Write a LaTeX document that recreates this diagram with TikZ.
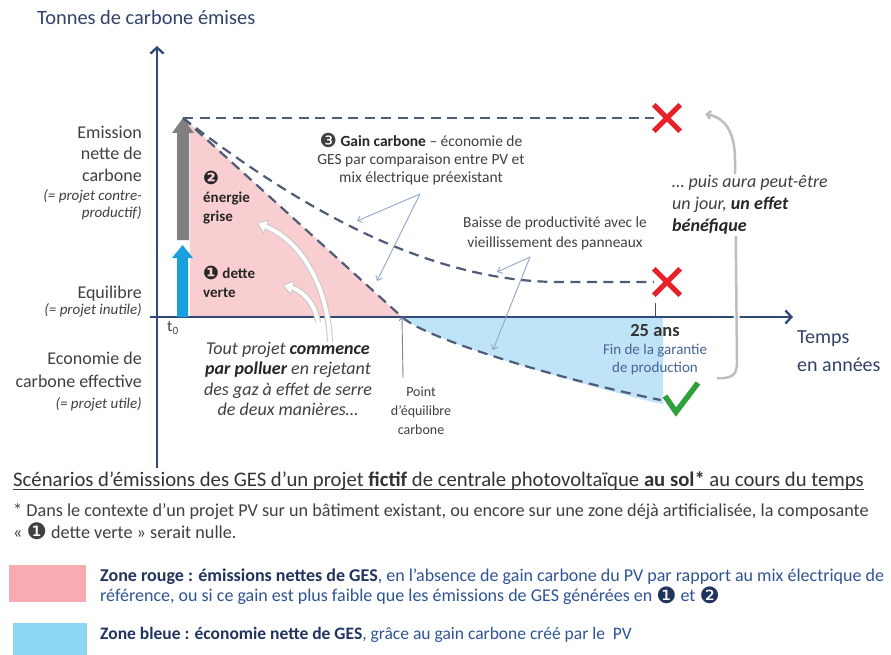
\documentclass[tikz,border=0pt]{standalone}
\usepackage{fontspec}
\setmainfont{Carlito}
\newfontfamily\djv{DejaVu Sans}
\usetikzlibrary{arrows.meta}
\newcommand\fsz[2]{\fontsize{#1pt}{#2pt}\selectfont}
\newcommand\cnum[1]{\raisebox{-0.08em}{\scalebox{1.25}{\djv #1}}}
\definecolor{axisblue}{RGB}{47,74,120}
\definecolor{dashc}{RGB}{78,92,118}
\definecolor{pinkz}{RGB}{249,206,209}
\definecolor{bluez}{RGB}{192,228,247}
\definecolor{pinkl}{RGB}{248,172,178}
\definecolor{bluel}{RGB}{140,214,246}
\definecolor{txtg}{RGB}{64,64,64}
\definecolor{navy}{RGB}{33,52,95}
\definecolor{linkb}{RGB}{47,84,150}
\definecolor{thinb}{RGB}{145,165,205}
\definecolor{xred}{RGB}{232,32,40}
\definecolor{cgreen}{RGB}{46,160,60}
\definecolor{arrgray}{RGB}{128,128,128}
\definecolor{arrblue}{RGB}{27,160,222}
\definecolor{braceg}{RGB}{190,190,190}
\definecolor{ttl}{RGB}{50,66,105}
\definecolor{fincol}{RGB}{70,100,150}
\begin{document}
\begin{tikzpicture}[x=1pt,y=-1pt,
  lbl/.style={anchor=mid east, inner sep=0, text=txtg, font=\fsz{18}{22}},
  lbls/.style={anchor=mid east, inner sep=0, text=txtg, font=\fsz{15}{17}\itshape},
  dashl/.style={draw=dashc, line width=2.2pt, dash pattern=on 10pt off 6.5pt},
  axisl/.style={draw=axisblue, line width=2.3pt, -{Straight Barb[length=6pt,width=13pt]}},
  thinarr/.style={draw=thinb, line width=0.9pt, -{Straight Barb[length=4pt,width=7pt]}},
  xbox/.style={minimum size=26pt, inner sep=0},
  xs/.style={draw=xred, line width=5pt},
  wout/.style={draw=black!22, line width=6pt, -{Triangle[length=10pt,width=15pt]}},
  win/.style={draw=white, line width=4pt, shorten >=1.3pt, -{Triangle[length=8pt,width=11pt]}},
  ctext/.style={align=center, inner sep=0, text=txtg}
]
\useasboundingbox (0,0) rectangle (891,655);
\fill[white] (0,0) rectangle (891,655);

% zones
\fill[pinkz] (190,124) -- (402,317) -- (190,317) -- cycle;
\fill[bluez] (402,317) .. controls (430,342) and (580,384) .. (653,402) -- (663,404) -- (663,317) -- cycle;

% axes
\coordinate (yb) at (157,468);
\coordinate (yt) at (157,46);
\coordinate (xl) at (150,317);
\coordinate (xr) at (793,317);
\draw[axisl] (yb) -- (yt);
\draw[axisl] (xl) -- (xr);
\coordinate (tk) at (655,303);
\coordinate (tkb) at (655,317);
\draw[black!70, line width=1pt] (tk) -- (tkb);

% emission arrows (shapes)
\fill[arrgray] (177,240) -- (177,133) -- (172,133) -- (183,118) -- (194,133) -- (189,133) -- (189,240) -- cycle;
\fill[arrblue] (177,317) -- (177,258) -- (172,258) -- (182.5,245) -- (193,258) -- (188,258) -- (188,317) -- cycle;

% scenario curves
\coordinate (S) at (183,118);
\coordinate (P) at (402,317);
\node[xbox] (x1) at (667,118) {};
\node[xbox] (x2) at (667,282) {};
\node[minimum width=40pt, minimum height=30pt, inner sep=0] (ck) at (681,400) {};
\draw[dashl] (S) -- (x1.west);
\draw[dashl] (S) .. controls (340,240) and (460,282) .. (560,282) -- (x2.west);
\draw[dashl] (S) -- (P) .. controls (430,342) and (580,384) .. (ck.west);

\draw[xs] (x1.north west) -- (x1.south east);
\draw[xs] (x1.north east) -- (x1.south west);
\draw[xs] (x2.north west) -- (x2.south east);
\draw[xs] (x2.north east) -- (x2.south west);
\draw[cgreen, line width=5.5pt] (665,396) -- (676,412) -- (698,383);

% thin annotation arrows
\coordinate (g3o) at (420,194);
\coordinate (g3a) at (357,221);
\coordinate (g3b) at (377,281);
\draw[thinarr] (g3o) -- (g3a);
\draw[thinarr] (g3o) -- (g3b);
\coordinate (bo) at (530,257);
\coordinate (ba) at (497,272);
\coordinate (bb) at (493,350);
\draw[thinarr] (bo) -- (ba);
\draw[thinarr] (bo) -- (bb);
\coordinate (po) at (403,378);
\draw[draw=thinb!80!black, line width=0.9pt, -{Straight Barb[length=3pt,width=6pt]}] (po) -- (P);

% white curved arrows
\coordinate (wa0) at (330,342);
\coordinate (wa1) at (257,223);
\coordinate (wb0) at (318,322);
\coordinate (wb1) at (283,285);
\draw[wout] (wa0) .. controls (328,285) and (300,240) .. (wa1);
\draw[win] (wa0) .. controls (328,285) and (300,240) .. (wa1);
\draw[wout] (wb0) .. controls (314,300) and (300,290) .. (wb1);
\draw[win] (wb0) .. controls (314,300) and (300,290) .. (wb1);

% brace
\coordinate (b0) at (717,378);
\coordinate (b1) at (705,114);
\draw[white, line width=6pt] (b0) .. controls (733,379) and (737,374) .. (737,362) -- (735,160) .. controls (735,128) and (722,117) .. (b1);
\draw[braceg, line width=2.5pt, -{Straight Barb[length=4pt,width=8pt]}] (b0) .. controls (733,379) and (737,374) .. (737,362) -- (735,160) .. controls (735,128) and (722,117) .. (b1);

% title and axis labels
\node[anchor=mid west, inner sep=0, text=ttl, font=\fsz{20.4}{24}] (ttlnode) at (37,22) {Tonnes de carbone émises};
\node[lbl] (l1) at (142,136) {Emission};
\node[lbl] (l2) at (142,157) {nette de};
\node[lbl] (l3) at (142,179) {carbone};
\node[lbls] (l4) at (142,198) {(= projet contre-};
\node[lbls] (l5) at (142,215) {productif)};
\node[lbl] (l6) at (142,296) {Equilibre};
\node[lbls] (l7) at (142,312) {(= projet inutile)};
\node[lbl] (l8) at (142,362) {Economie de};
\node[lbl] (l9) at (142,385) {carbone effective};
\node[lbls] (l10) at (142,406) {(= projet utile)};
\node[inner sep=0, text=txtg, font=\fsz{16}{18}] (t0) at (173,328) {t\textsubscript{0}};

% chart texts
\node[align=left, anchor=north west, inner sep=0, font=\fsz{15}{19}\bfseries, text=black!85] (eg) at (203,171) {\cnum{❷}\\énergie\\grise};
\node[align=left, anchor=west, inner sep=0, font=\fsz{15}{19}\bfseries, text=black!85] (dv) at (203,282) {\cnum{❶} dette\\verte};
\node[ctext, font=\fsz{15.5}{18}] (g3t) at (421,159) {\cnum{❸} \textcolor{black!85}{\textbf{Gain carbone}} – économie de\\GES par comparaison entre PV et\\mix électrique préexistant};
\node[ctext, font=\fsz{15.4}{20}] (bai) at (555,233) {Baisse de productivité avec le\\vieillissement des panneaux};
\node[ctext, font=\fsz{14}{19}] (pt) at (421,411) {Point\\d’équilibre\\carbone};
\node[ctext, font=\fsz{18}{20.5}\itshape] (tp) at (288,379) {Tout projet \textcolor{black!85}{\textbf{commence}}\\\textcolor{black!85}{\textbf{par polluer}} en rejetant\\des gaz à effet de serre\\de deux manières…};
\node[align=left, anchor=west, inner sep=1pt, fill=white, text=txtg, font=\fsz{18}{22}\itshape] (pa) at (671,205) {… puis aura peut-être\\un jour, \textcolor{black!85}{\textbf{un effet}}\\\textcolor{black!85}{\textbf{bénéfique}}};
\node[inner sep=0, font=\fsz{18.5}{20}\bfseries, text=black!80] (y25) at (655,331) {25 ans};
\node[ctext, text=fincol, font=\fsz{15}{18}] (fin) at (655,359) {Fin de la garantie\\de production};
\node[align=left, anchor=west, inner sep=0, text=ttl, font=\fsz{20}{28}] (tps) at (797,351) {Temps\\en années};

% caption and notes
\node[anchor=mid west, inner sep=0, font=\fsz{20.7}{22}, text=black!80] (scn) at (13,484) {Scénarios d’émissions des GES d’un projet \textbf{fictif} de centrale photovoltaïque \textbf{au sol*} au cours du temps};
\draw[black!75, line width=1pt] ([yshift=-3pt]scn.base west) -- ([yshift=-3pt]scn.base east);
\node[anchor=mid west, inner sep=0, font=\fsz{18.2}{22}, text=black!75] (ft1) at (13,514) {* Dans le contexte d’un projet PV sur un bâtiment existant, ou encore sur une zone déjà artificialisée, la composante};
\node[anchor=mid west, inner sep=0, font=\fsz{18.2}{22}, text=black!75] (ft2) at (13,536) {« \cnum{❶} dette verte » serait nulle.};

% legend
\node[fill=pinkl, minimum width=77pt, minimum height=37pt, inner sep=0, anchor=north west] (lgp) at (9,565) {};
\node[fill=bluel, minimum width=74pt, minimum height=33pt, inner sep=0, anchor=north west] (lgb) at (13,623) {};
\node[anchor=west, align=left, inner sep=0, font=\fsz{18}{20}, text=linkb] (zr) at (100,587) {\textcolor{navy}{\textbf{Zone rouge : émissions nettes de GES}}, en l’absence de gain carbone du PV par rapport au mix électrique de\\référence, ou si ce gain est plus faible que les émissions de GES générées en \textcolor{navy}{\cnum{❶}} et \textcolor{navy}{\cnum{❷}}};
\node[anchor=mid west, inner sep=0, font=\fsz{17.5}{20}, text=linkb] (zb) at (100,637) {\textcolor{navy}{\textbf{Zone bleue : économie nette de GES}}, grâce au gain carbone créé par le\ \ PV};
\end{tikzpicture}
\end{document}
